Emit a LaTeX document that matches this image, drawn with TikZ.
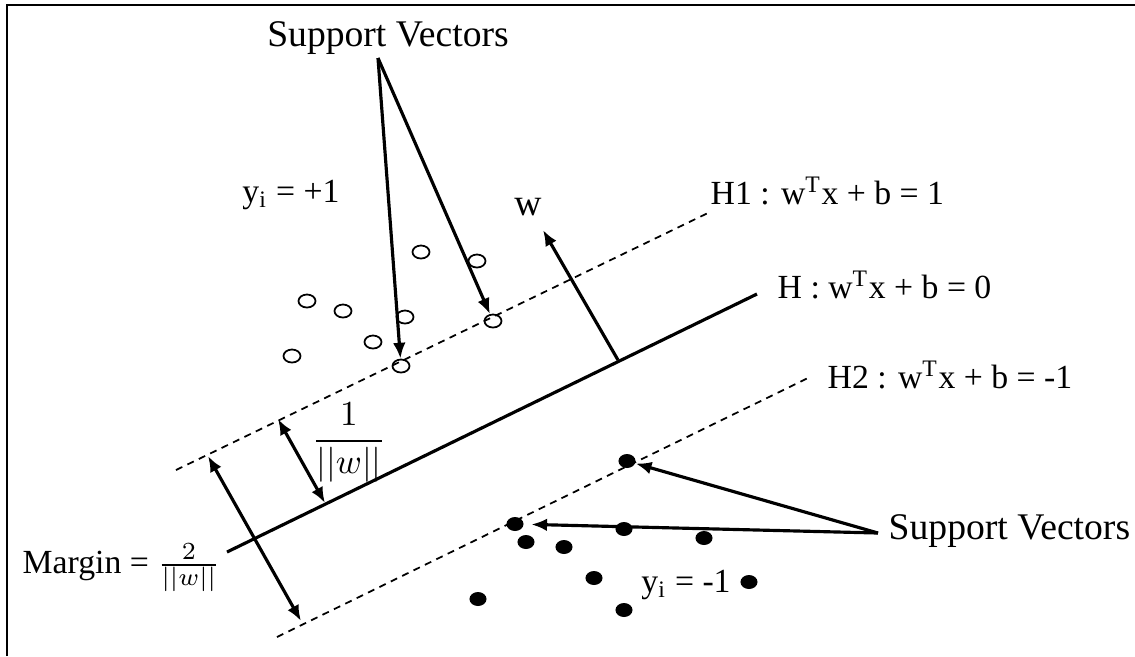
\documentclass[tikz,border=0pt]{standalone}
\usepackage{fontspec}
\setmainfont{Liberation Serif}
\usetikzlibrary{positioning, shapes, arrows.meta}

\begin{document}
\begin{tikzpicture}[x=0.01cm, y=-0.01cm,
    every node/.style={font=\fontsize{10.7}{12}\selectfont, inner sep=0pt},
    eqn/.style={font=\fontsize{9.6}{11}\selectfont},
    plane/.style={dash pattern=on 2pt off 1.6pt, line width=0.5pt},
    hyper/.style={line width=0.9pt},
    vec/.style={-{Latex[length=4.5pt, width=3.6pt]}, line width=0.9pt},
    dvec/.style={{Latex[length=4.5pt, width=3.6pt]}-{Latex[length=4.5pt, width=3.6pt]}, line width=0.9pt},
    posdot/.style={ellipse, draw, line width=0.5pt, minimum width=0.17cm, minimum height=0.13cm},
    negdot/.style={ellipse, fill, minimum width=0.17cm, minimum height=0.14cm}]
      \useasboundingbox (0,0) rectangle (1135,656);
      % Frame
      \draw[line width=0.8pt] (7,656) -- (7,5) -- (1135,5);

      % Hyperplanes
      \coordinate (h0) at (227,552);
      \coordinate (h1) at (757,294);
      \coordinate (ha0) at (176,470);
      \coordinate (ha1) at (710,212);
      \coordinate (hb0) at (277,637);
      \coordinate (hb1) at (810,377);
      \draw[hyper] (h0) -- (h1);
      \draw[plane] (ha0) -- (ha1);
      \draw[plane] (hb0) -- (hb1);
      \node[eqn, anchor=west] (hlab) at (777,285) {H : w\textsuperscript{T}x + b = 0};
      \node[eqn, anchor=west] (halab) at (710,191) {H1 : w\textsuperscript{T}x + b = 1};
      \node[eqn, anchor=west] (hblab) at (827,375) {H2 : w\textsuperscript{T}x + b = -1};

      % Normal vector
      \coordinate (wfoot) at (618,360);
      \coordinate (wtip) at (543,230);
      \draw[vec] (wfoot) -- (wtip);
      \node (wlab) at (528,207) {w};

      % Margins
      \coordinate (m1a) at (278,419);
      \coordinate (m1b) at (325,503);
      \draw[dvec] (m1a) -- (m1b);
      \node[eqn] (onew) at (349,443) {$\displaystyle\frac{1}{||w||}$};
      \coordinate (m2a) at (208,456);
      \coordinate (m2b) at (301,621);
      \draw[dvec] (m2a) -- (m2b);
      \node[eqn, anchor=west] (marginlab) at (22,568) {Margin = $\frac{2}{||w||}$};

      % Class +1
      \node[eqn] (yplus) at (291,195) {y\textsubscript{i} = +1};
      \node[posdot] (o1) at (421,252) {};
      \node[posdot] (o2) at (477,261) {};
      \node[posdot] (o3) at (307,301) {};
      \node[posdot] (o4) at (343,311) {};
      \node[posdot] (o5) at (405,317) {};
      \node[posdot] (o6) at (373,342) {};
      \node[posdot] (o7) at (292,356) {};
      \node[posdot] (o8) at (401,366) {};
      \node[posdot] (o9) at (493,321) {};

      % Class -1
      \node[eqn] (yminus) at (686,585) {y\textsubscript{i} = -1};
      \node[negdot] (d1) at (627,461) {};
      \node[negdot] (d2) at (515,524) {};
      \node[negdot] (d3) at (526,542) {};
      \node[negdot] (d4) at (564,547) {};
      \node[negdot] (d5) at (624,529) {};
      \node[negdot] (d6) at (704,538) {};
      \node[negdot] (d7) at (594,578) {};
      \node[negdot] (d8) at (749,582) {};
      \node[negdot] (d9) at (478,599) {};
      \node[negdot] (d10) at (624,610) {};

      % Support vector labels
      \node (svtop) at (388,38) {Support Vectors};
      \coordinate (svtopc) at (378,58);
      \draw[vec] (svtopc) -- (o8);
      \draw[vec] (svtopc) -- (o9);
      \node[anchor=west] (svright) at (888,531) {Support Vectors};
      \coordinate (svrightc) at (878,533);
      \draw[vec] (svrightc) -- (d1);
      \draw[vec, shorten >=2pt] (svrightc) -- (d2);
\end{tikzpicture}
\end{document}
